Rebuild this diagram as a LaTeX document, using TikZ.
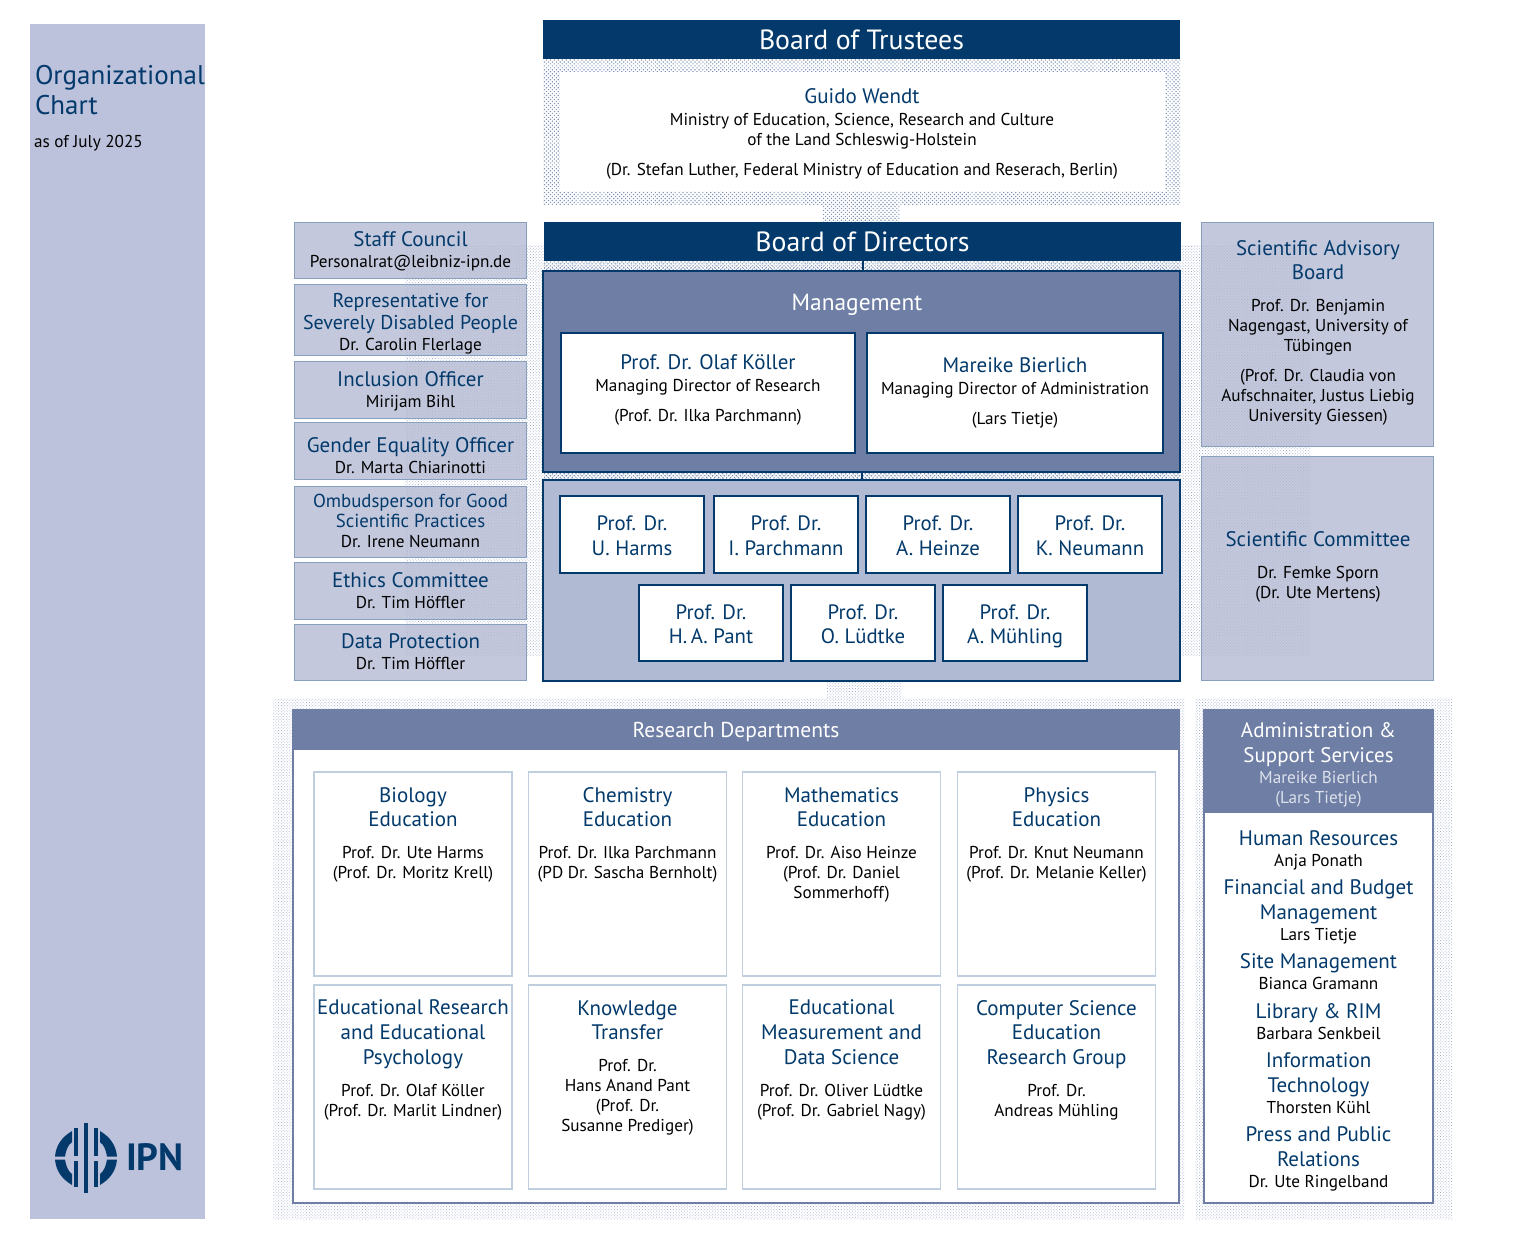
\documentclass[tikz,border=0pt]{standalone}
\usepackage{fontspec}
\setmainfont{PT Sans}
\usepackage{xcolor}
\definecolor{ipn_blue}{HTML}{033A6B}
\definecolor{side_lila}{HTML}{BCC1DC}
\definecolor{mgmt_blue}{HTML}{6E7EA5}
\definecolor{panel_blue}{HTML}{B0BAD3}
\definecolor{soft_blue}{HTML}{B4BAD3}
\definecolor{soft_line}{HTML}{86A0BE}
\definecolor{dept_line}{HTML}{BFCFE0}
\definecolor{dot_dark}{HTML}{7E93B5}
\definecolor{dot_light}{HTML}{A2ADC9}
\definecolor{pale_text}{HTML}{DDE1EC}
\usetikzlibrary{patterns.meta}
% text sizes, a node starts each line with one of them
\newcommand{\hd}{\fontsize{10.5}{10}\selectfont\color{ipn_blue}}
\newcommand{\hdmid}{\fontsize{10}{10}\selectfont\color{ipn_blue}}
\newcommand{\hdsmall}{\fontsize{9.4}{10}\selectfont\color{ipn_blue}}
\newcommand{\sm}{\fontsize{8.6}{10}\selectfont\color{black}}
\newcommand{\hdw}{\fontsize{10.5}{10}\selectfont\color{white}}
\newcommand{\smw}{\fontsize{8.6}{10}\selectfont\color{pale_text}}
\newcommand{\proftop}{\rule{0pt}{10.5pt}}
\begin{document}
\begin{tikzpicture}[x=0.5pt,y=-0.5pt]
\tikzset{
    wh/.style 2 args={minimum width=#1*0.5pt,minimum height=#2*0.5pt},
    every node/.style={inner sep=0pt,outer sep=0pt},
    head/.style={fill=ipn_blue,text=white,font=\fontsize{13.9}{15}\selectfont},
    softbox/.style={fill=soft_blue,fill opacity=.8,text opacity=1,draw=soft_line,line width=0.5pt},
    whitebox/.style={fill=white,draw=ipn_blue,line width=0.7pt},
    profbox/.style={whitebox,text=ipn_blue,align=center,font=\fontsize{10.4}{12.3}\selectfont},
    deptbox/.style={fill=white,draw=dept_line,line width=0.6pt},
    frame/.style={fill=white,draw=mgmt_blue,line width=0.8pt},
    txt/.style={align=center,font=\fontsize{8.6}{10}\selectfont},
    stipdark/.style={pattern={Dots[distance=1.4pt,radius=.42pt,angle=45]},pattern color=dot_dark},
    stiplight/.style={pattern={Dots[distance=1.1pt,radius=.27pt,angle=45]},pattern color=dot_light},
    link/.style={draw=ipn_blue,line width=1pt}
}
\useasboundingbox (0,0) rectangle (1529,1236);
% sidebar
\node[fill=side_lila,wh={175}{1195}] (sidebar) at (117.5,621.5) {};
\node[align=left,anchor=west,text=ipn_blue,font=\fontsize{13.5}{15.2}\selectfont] (title) at (35,90) {Organizational\\Chart};
\node[txt,anchor=west] (date) at (34,143) {\sm as of July 2025};
% logo
\begin{scope}[shift={(86,1158)}]
\fill[ipn_blue] (-2,-35) rectangle (2,35);
\foreach \sx in {-1,1} {
  \fill[ipn_blue] ({\sx*8},-30) rectangle ({\sx*12},-2.5);
  \fill[ipn_blue] ({\sx*8},2.5) rectangle ({\sx*12},29);
  \foreach \sy in {-1,1} {
    \fill[ipn_blue] ({\sx*31},{\sy*1.5}) .. controls ({\sx*30},{\sy*13}) and ({\sx*24},{\sy*21}) .. ({\sx*14},{\sy*27})
       -- ({\sx*14},{\sy*16}) .. controls ({\sx*18},{\sy*13}) and ({\sx*20},{\sy*8}) .. ({\sx*21},{\sy*1.5}) -- cycle;
  }
}
\end{scope}
\node[text=ipn_blue,font=\fontsize{19}{19}\selectfont\bfseries,anchor=west] (logotext) at (126,1157.5) {IPN};
% stippled backing
\node[stiplight,wh={906}{410}] (backing) at (858,450) {};
\node[stipdark,wh={637}{145}] (trustback) at (861.5,131.5) {};
\node[stipdark,wh={77}{18}] (trustlink) at (861.5,213) {};
\node[stiplight,wh={74}{17}] (midlink) at (864,689.5) {};
\node[stiplight,wh={911}{521}] (resback) at (728.5,958.5) {};
\node[stiplight,wh={257}{521}] (admback) at (1323.5,958.5) {};
\node[stipdark,wh={636}{10}] (band1) at (862,266) {};
\node[stipdark,wh={636}{8}] (band2) at (862,476) {};
% trustees
\node[head,wh={637}{39}] (trustees) at (861.5,39.5) {Board of Trustees};
\node[fill=white,wh={605}{119}] (guido) at (862.5,131.5) {};
\node[txt] (guidotxt) at (862,134) {\hd Guido Wendt\\[1pt]\sm Ministry of Education, Science, Research and Culture\\\sm of the Land Schleswig-Holstein\\[5pt]\sm (Dr. Stefan Luther, Federal Ministry of Education and Reserach, Berlin)};
% directors
\node[head,wh={637}{39}] (directors) at (862.5,241.5) {Board of Directors};
\node[fill=mgmt_blue,draw=ipn_blue,line width=0.8pt,wh={637}{201}] (mgmt) at (861.5,371.5) {};
\node[text=white,font=\fontsize{11.7}{13}\selectfont] (mgmttxt) at (857,305) {Management};
\node[whitebox,wh={294}{120}] (koeller) at (708,393) {};
\node[whitebox,wh={296}{120}] (bierlich) at (1015,393) {};
\node[txt] (koellertxt) at (708,390) {\hd Prof. Dr. Olaf Köller\\[1pt]\sm Managing Director of Research\\[5pt]\sm (Prof. Dr. Ilka Parchmann)};
\node[txt] (bierlichtxt) at (1015,393) {\hd Mareike Bierlich\\[1pt]\sm Managing Director of Administration\\[5pt]\sm (Lars Tietje)};
\node[fill=panel_blue,draw=ipn_blue,line width=0.8pt,wh={637}{201}] (panel) at (861.5,580.5) {};
\node[profbox,wh={144}{77}] (harms) at (632,534.5) {\proftop Prof. Dr.\\U. Harms\vphantom{g}};
\node[profbox,wh={144}{77}] (parchmann) at (786,534.5) {\proftop Prof. Dr.\\I. Parchmann\vphantom{g}};
\node[profbox,wh={144}{77}] (heinze) at (938,534.5) {\proftop Prof. Dr.\\A. Heinze\vphantom{g}};
\node[profbox,wh={144}{77}] (neumann) at (1090,534.5) {\proftop Prof. Dr.\\K. Neumann\vphantom{g}};
\node[profbox,wh={144}{76}] (pant) at (711,623) {\proftop Prof. Dr.\\H.\,A. Pant\vphantom{g}};
\node[profbox,wh={144}{76}] (luedtke) at (863,623) {\proftop Prof. Dr.\\O. Lüdtke\vphantom{g}};
\node[profbox,wh={144}{76}] (muehling) at (1015,623) {\proftop Prof. Dr.\\A. Mühling};
\draw[link] (directors.south) -- (directors.south |- mgmt.north);
\draw[link] (mgmt.south) -- (panel.north);
% left column
\node[softbox,wh={232}{56}] (staff) at (410.5,250) {};
\node[softbox,wh={232}{71}] (disabled) at (410.5,319.5) {};
\node[softbox,wh={232}{57}] (inclusion) at (410.5,389.5) {};
\node[softbox,wh={232}{57}] (gender) at (410.5,450.5) {};
\node[softbox,wh={232}{71}] (ombuds) at (410.5,521.5) {};
\node[softbox,wh={232}{57}] (ethics) at (410.5,590.5) {};
\node[softbox,wh={232}{56}] (data) at (410.5,652) {};
\node[txt] (stafftxt) at (410.5,251.5) {\hd Staff Council\\[0.6pt]\sm Personalrat@leibniz-ipn.de};
\node[txt] (disabledtxt) at (410.5,323.5) {\hdmid Representative for\\[1pt]\hdmid Severely Disabled People\\[0.5pt]\sm Dr. Carolin Flerlage};
\node[txt] (inclusiontxt) at (410.5,391) {\hd Inclusion Officer\\[0.6pt]\sm Mirijam Bihl};
\node[txt] (gendertxt) at (410.5,456) {\hd Gender Equality Officer\\[0.6pt]\sm Dr. Marta Chiarinotti};
\node[txt] (ombudstxt) at (410.5,521) {\hdsmall Ombudsperson for Good\\\hdsmall Scientific Practices\\\sm Dr. Irene Neumann};
\node[txt] (ethicstxt) at (410.5,591) {\hd Ethics Committee\\[0.6pt]\sm Dr. Tim Höffler};
\node[txt] (datatxt) at (410.5,652) {\hd Data Protection\\[0.6pt]\sm Dr. Tim Höffler};
% right column
\node[softbox,wh={232}{224}] (advisory) at (1317.5,334) {};
\node[softbox,wh={232}{224}] (committee) at (1317.5,568) {};
\node[txt] (advisorytxt) at (1318,333) {\hd Scientific Advisory\\[2.3pt]\hd Board\\[6pt]\sm Prof. Dr. Benjamin\\\sm Nagengast, University of\\\sm Tübingen\\[5pt]\sm (Prof. Dr. Claudia von\\\sm Aufschnaiter, Justus Liebig\\\sm University Giessen)};
\node[txt] (committeetxt) at (1318,567) {\hd Scientific Committee\\[6pt]\sm Dr. Femke Sporn\\\sm (Dr. Ute Mertens)};
% research departments
\node[frame,wh={886}{493}] (research) at (736,956.5) {};
\node[fill=mgmt_blue,wh={886}{40}] (researchhead) at (736,730) {};
\node[text=white,font=\fontsize{10.75}{12.3}\selectfont] (researchtxt) at (736,732) {Research Departments};
\node[deptbox,wh={198}{204}] (biology) at (413,874) {};
\node[deptbox,wh={198}{204}] (chemistry) at (627.5,874) {};
\node[deptbox,wh={198}{204}] (maths) at (841.5,874) {};
\node[deptbox,wh={198}{204}] (physics) at (1056.5,874) {};
\node[deptbox,wh={198}{204}] (edures) at (413,1087) {};
\node[deptbox,wh={198}{204}] (transfer) at (627.5,1087) {};
\node[deptbox,wh={198}{204}] (measure) at (841.5,1087) {};
\node[deptbox,wh={198}{204}] (compsci) at (1056.5,1087) {};
\node[txt] (biologytxt) at (413,835) {\hd Biology\\[2.3pt]\hd Education\\[6pt]\sm Prof. Dr. Ute Harms\\\sm (Prof. Dr. Moritz Krell)};
\node[txt] (chemistrytxt) at (627.5,835) {\hd Chemistry\\[2.3pt]\hd Education\\[6pt]\sm Prof. Dr. Ilka Parchmann\\\sm (PD Dr. Sascha Bernholt)};
\node[txt] (mathstxt) at (841.5,845) {\hd Mathematics\\[2.3pt]\hd Education\\[6pt]\sm Prof. Dr. Aiso Heinze\\\sm (Prof. Dr. Daniel\\\sm Sommerhoff)};
\node[txt] (physicstxt) at (1056.5,835) {\hd Physics\\[2.3pt]\hd Education\\[6pt]\sm Prof. Dr. Knut Neumann\\\sm (Prof. Dr. Melanie Keller)};
\node[txt] (edurestxt) at (413,1060) {\hd Educational Research\\[2.3pt]\hd and Educational\\[2.3pt]\hd Psychology\\[6pt]\sm Prof. Dr. Olaf Köller\\\sm (Prof. Dr. Marlit Lindner)};
\node[txt] (transfertxt) at (627.5,1068) {\hd Knowledge\\[2.3pt]\hd Transfer\\[6pt]\sm Prof. Dr.\\\sm Hans Anand Pant\\\sm (Prof. Dr.\\\sm Susanne Prediger)};
\node[txt] (measuretxt) at (841.5,1060) {\hd Educational\\[2.3pt]\hd Measurement and\\[2.3pt]\hd Data Science\\[6pt]\sm Prof. Dr. Oliver Lüdtke\\\sm (Prof. Dr. Gabriel Nagy)};
\node[txt] (compscitxt) at (1056.5,1060) {\hd Computer Science\\[2.3pt]\hd Education\\[2.3pt]\hd Research Group\\[6pt]\sm Prof. Dr.\\\sm Andreas Mühling};
% administration
\node[frame,wh={229}{493}] (admin) at (1318.5,956.5) {};
\node[fill=mgmt_blue,wh={229}{103}] (adminhead) at (1318.5,761.5) {};
\node[txt] (adminheadtxt) at (1318.5,765) {\hdw Administration \&\\[2.3pt]\hdw Support Services\\[0.6pt]\smw Mareike Bierlich\\\smw (Lars Tietje)};
\node[txt] (hrtxt) at (1318.5,850) {\hd Human Resources\\[0.6pt]\sm Anja Ponath};
\node[txt] (financetxt) at (1318.5,912) {\hd Financial and Budget\\[2.3pt]\hd Management\\[0.6pt]\sm Lars Tietje};
\node[txt] (sitetxt) at (1318.5,972) {\hd Site Management\\[0.6pt]\sm Bianca Gramann};
\node[txt] (librarytxt) at (1318.5,1021.5) {\hd Library \& RIM\\[0.6pt]\sm Barbara Senkbeil};
\node[txt] (ittxt) at (1318.5,1083) {\hd Information\\[2.3pt]\hd Technology\\[0.6pt]\sm Thorsten Kühl};
\node[txt] (presstxt) at (1318.5,1159) {\hd Press and Public\\[2.3pt]\hd Relations\\[0.6pt]\sm Dr. Ute Ringelband};
\end{tikzpicture}
\end{document}
